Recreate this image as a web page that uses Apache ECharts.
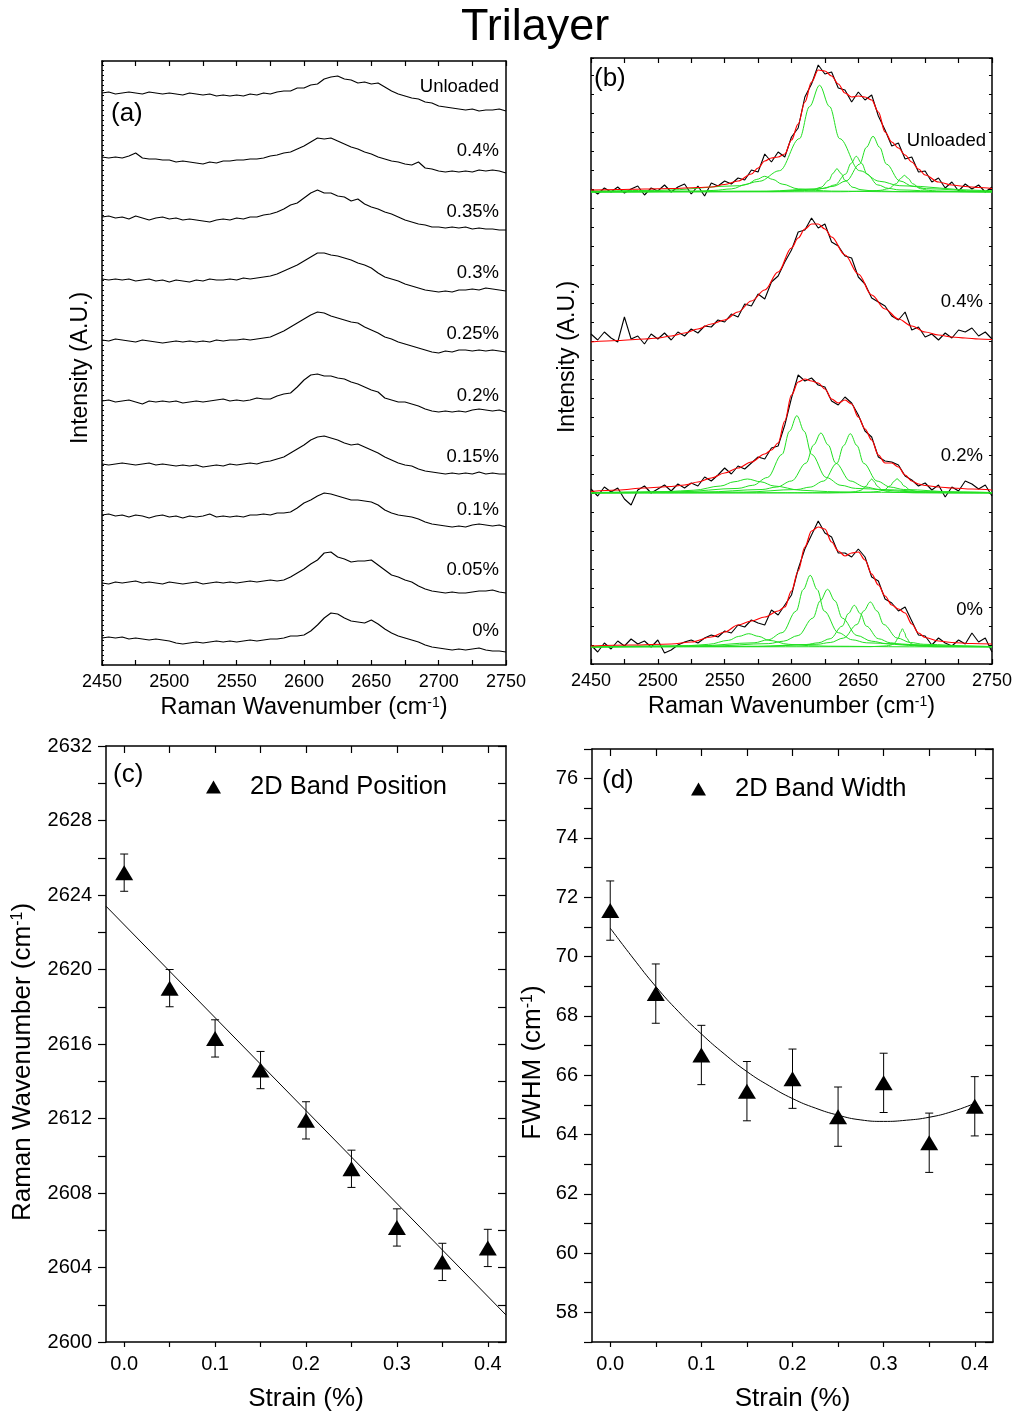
<!DOCTYPE html>
<html>
<head>
<meta charset="utf-8">
<title>Trilayer</title>
<script src="https://cdn.jsdelivr.net/npm/echarts@6/dist/echarts.min.js"></script>
<style>
html, body { margin: 0; padding: 0; background: #fff; }
#main { width: 1015px; height: 1418px; }
</style>
</head>
<body>
<div id="main"></div>
<script>
var FONT = 'Liberation Sans, Arial, sans-serif';

// ---- panel (a)/(b): Raman spectra, x = wavenumber (cm-1) ----
var wavenumbers = [2450,2455,2460,2465,2470,2475,2480,2485,2490,2495,
  2500,2505,2510,2515,2520,2525,2530,2535,2540,2545,
  2550,2555,2560,2565,2570,2575,2580,2585,2590,2595,
  2600,2605,2610,2615,2620,2625,2630,2635,2640,2645,
  2650,2655,2660,2665,2670,2675,2680,2685,2690,2695,
  2700,2705,2710,2715,2720,2725,2730,2735,2740,2745,
  2750];

var labelsA = ['Unloaded', '0.4%', '0.35%', '0.3%', '0.25%', '0.2%', '0.15%', '0.1%', '0.05%', '0%'];
var offsetsA = [572, 508, 448, 386, 325, 264, 201, 150, 82, 27];

var specA_unloaded = [0,1,-1,0,1,0,-1,1,0,-1, 0,-1,-2,0,-1,-2,-1,-3,-2,-3, -2,-3,-1,-2,0,-1,1,2,2,5,
  5,8,9,14,16,17,14,13,10,11, 9,10,6,2,-1,-3,-5,-6,-9,-10, -13,-14,-15,-16,-17,-16,-18,-17,-17,-16, -18];
var specA_04 = [0,-1,0,-1,1,4,-1,-2,-2,-3, -3,-5,-4,-5,-6,-7,-5,-6,-4,-4, -3,-3,-2,-2,-1,1,2,4,5,8,
  11,15,19,18,19,16,13,10,8,5, 3,0,-2,-4,-5,-7,-8,-5,-11,-12, -14,-15,-14,-15,-14,-15,-13,-14,-13,-14, -16];
var specA_035 = [0,1,-1,0,-2,1,-1,-3,-1,0, -2,-1,-3,-2,-3,-4,-5,-3,-2,-3, -1,-2,0,0,2,3,5,8,12,14,
  19,24,27,24,24,21,20,16,18,13, 10,8,5,3,0,-3,-5,-7,-8,-10, -10,-11,-10,-11,-10,-12,-11,-12,-12,-13, -13];
var specA_03 = [0,-1,0,-1,0,-2,-1,0,-2,-1, -3,-1,-2,-3,-1,-2,0,-1,-1,0, -1,1,0,1,2,3,5,8,11,14,
  18,22,26,26,24,23,21,19,16,14, 11,6,2,0,-2,-5,-7,-9,-11,-12, -13,-12,-13,-11,-11,-10,-11,-9,-10,-11, -12];
var specA_025 = [0,-1,1,0,-1,-2,0,-1,-2,-3, -2,-1,-2,-1,-2,-1,-2,0,-1,0, 0,1,0,1,2,3,6,9,13,17,
  21,25,28,27,24,22,20,18,17,13, 10,7,3,1,-2,-4,-6,-8,-10,-12, -13,-11,-12,-10,-10,-11,-10,-11,-10,-11, -12];
var specA_02 = [0,1,-1,0,1,-1,-3,0,-1,0, -1,0,-2,-1,0,-1,0,1,2,0, 1,0,1,3,2,2,5,7,8,14,
  21,26,27,25,25,23,22,19,17,14, 11,9,3,1,-1,-1,-3,-5,-8,-10, -11,-10,-11,-10,-11,-9,-8,-9,-10,-9, -11];
var specA_015 = [0,-1,0,1,0,-1,0,1,-1,0, -1,-2,-1,-2,-1,-3,-2,-1,-2,0, -1,0,1,0,2,3,5,7,11,15,
  19,24,27,28,26,24,21,19,20,17, 14,11,7,4,1,-1,-2,-5,-7,-8, -9,-10,-9,-10,-9,-10,-8,-10,-9,-10, -10];
var specA_01 = [0,1,-1,0,-2,0,-1,-3,-1,0, -2,-1,-3,-1,-2,-1,1,-2,-1,-2, -1,-2,0,0,1,0,2,2,3,7,
  12,15,19,22,21,19,17,15,15,14, 13,10,5,2,0,-1,-2,-4,-7,-9, -10,-11,-12,-11,-12,-10,-9,-10,-11,-10, -12];
var specA_005 = [0,-1,1,0,1,2,0,1,0,-1, 1,0,-1,0,1,-1,0,1,0,1, 0,1,2,1,2,3,2,3,6,10,
  14,19,23,30,31,26,24,21,22,22, 23,18,13,8,6,3,1,-3,-6,-8, -9,-10,-9,-10,-10,-9,-8,-8,-7,-9, -10];
var specA_0 = [0,1,0,1,-1,0,-1,-2,-1,-2, -3,-5,-6,-5,-4,-5,-4,-3,-4,-3, -4,-3,-2,-3,-2,-1,-1,0,2,2,
  3,7,13,20,25,24,20,17,16,15, 18,14,9,5,2,0,-2,-4,-7,-9, -10,-11,-12,-11,-12,-11,-10,-12,-13,-13, -14];
var spectraA = [specA_unloaded, specA_04, specA_035, specA_03, specA_025, specA_02, specA_015, specA_01, specA_005, specA_0];

var labelsB = ['Unloaded', '0.4%', '0.2%', '0%'];
var offsetsB = [472, 322, 171, 17];

var specB_unloaded = [3,-2,4,0,5,-1,3,6,-3,4, 1,7,0,5,8,-2,6,-4,9,6, 11,8,14,12,22,20,38,30,40,35,
  55,64,95,108,127,118,120,104,102,90, 100,92,97,76,62,46,49,33,35,20, 21,10,14,4,10,1,8,3,7,0, 5];
var specB_04 = [8,2,10,4,0,25,3,6,-2,8, 3,9,2,10,6,13,9,16,15,22, 20,28,25,38,36,48,43,60,66,80,
  92,110,112,124,114,118,100,96,86,84, 65,58,44,40,36,26,22,30,12,15, 5,8,2,9,4,12,10,14,6,10, 3];
var specB_02 = [4,-3,6,1,5,-6,-12,3,7,0, 4,8,2,9,5,10,7,16,12,18, 25,19,27,24,30,36,34,45,47,68,
  95,118,112,115,108,106,92,88,96,90, 78,62,56,36,32,31,28,17,13,7, 10,3,8,-4,6,2,12,9,4,8, -3];
var specB_0 = [2,-5,4,-2,6,1,8,3,6,0, 7,-6,-3,2,5,7,4,9,12,10, 16,14,22,20,27,24,22,37,32,42,
  52,78,98,112,126,114,110,94,94,90, 98,90,70,66,48,44,36,40,26,12, 11,2,9,4,1,7,3,14,5,9, -5];
var spectraB = [specB_unloaded, specB_04, specB_02, specB_0];

// cumulative fits (red)
var fitB_unloaded = [[2450,2],[2470,2.5],[2490,3],[2510,3.5],[2530,4.5],[2540,5],[2550,7.5],[2560,11],[2570,18],[2575,24],
  [2580,31],[2585,34],[2590,35],[2595,38],[2600,52],[2605,68],[2610,90],[2615,110],[2620,122],[2625,121],[2630,116],
  [2635,108],[2640,99],[2645,95],[2650,96],[2655,95],[2660,92],[2665,80],[2670,60],[2675,50],[2680,44],[2685,37],
  [2690,30],[2695,23],[2700,17],[2710,10],[2720,7],[2730,5.5],[2740,4.5],[2750,3.5]];
var fitB_04 = [[2450,0],[2470,1.5],[2490,3],[2500,4],[2510,6],[2520,9],[2530,13],[2540,18],[2550,22],[2560,30],
  [2570,41],[2580,52],[2590,70],[2600,94],[2605,104],[2610,113],[2615,118],[2620,118],[2625,113],[2630,105],
  [2640,87],[2650,68],[2660,47],[2670,33],[2680,23],[2690,16],[2700,10],[2710,7],[2720,5],[2730,4],[2740,3],[2750,2.5]];
var fitB_02 = [[2450,1.5],[2470,3],[2490,5],[2510,6.5],[2520,8],[2530,11],[2540,15],[2550,20],[2560,25],[2570,31],
  [2580,39],[2585,43],[2590,50],[2595,72],[2600,98],[2605,111],[2610,114],[2615,112],[2620,110],[2625,104],
  [2630,94],[2635,90],[2640,93],[2645,89],[2650,76],[2655,64],[2660,53],[2665,38],[2670,30],[2675,30],[2680,26],
  [2685,18],[2690,12],[2695,9],[2700,7.5],[2710,6],[2720,5],[2735,4],[2750,3]];
var fitB_0 = [[2450,1],[2480,2],[2510,3],[2525,5],[2540,10],[2550,15],[2560,22],[2570,26],[2580,30],[2590,36],
  [2595,40],[2600,56],[2605,76],[2610,100],[2615,116],[2620,120],[2625,118],[2630,105],[2635,96],[2640,91],
  [2645,94],[2650,95],[2655,87],[2660,73],[2665,62],[2670,51],[2675,42],[2680,38],[2685,34],[2690,23],[2695,14],
  [2700,9.5],[2710,6],[2720,4.5],[2735,3.5],[2750,3]];
var fitsB = [fitB_unloaded, fitB_04, fitB_02, fitB_0];

// fitted Lorentzian components (green)
var peaksB_unloaded = [
  [[2450,0.1],[2480,0.2],[2530,0.9],[2542,1.6],[2555,3.1],[2567,7.9],[2574,12.6],[2580,15.7],[2586,12.6],[2593,7.9],[2605,3.1],[2618,1.6],[2630,0.9],[2680,0.2],[2750,0.1]],
  [[2450,0.9],[2501,1.6],[2561,6.3],[2576,10.7],[2591,21.3],[2606,53.4],[2613.5,85.4],[2621,106.7],[2628.5,85.4],[2636,53.4],[2651,21.3],[2666,10.7],[2681,6.3],[2741,1.6],[2750,1.4]],
  [[2450,0.1],[2586,0.4],[2610,1.4],[2616,2.3],[2622,4.7],[2628,11.7],[2631,18.6],[2634,23.3],[2637,18.6],[2640,11.7],[2646,4.7],[2652,2.3],[2658,1.4],[2682,0.4],[2750,0.1]],
  [[2450,0.2],[2584.5,0.55],[2616.5,2.1],[2624.5,3.6],[2632.5,7.1],[2640.5,17.9],[2644.5,28.6],[2648.5,35.7],[2652.5,28.6],[2656.5,17.9],[2664.5,7.1],[2672.5,3.6],[2680.5,2.1],[2712.5,0.55],[2750,0.2]],
  [[2450,0.3],[2581,0.86],[2621,3.3],[2631,5.6],[2641,11.1],[2651,27.9],[2656,44.6],[2661,55.7],[2666,44.6],[2671,27.9],[2681,11.1],[2691,5.6],[2701,3.3],[2741,0.86],[2750,0.7]],
  [[2450,0.05],[2636.5,0.26],[2660.5,1],[2666.5,1.7],[2672.5,3.3],[2678.5,8.4],[2681.5,13.4],[2684.5,16.7],[2687.5,13.4],[2690.5,8.4],[2696.5,3.3],[2702.5,1.7],[2708.5,1],[2732.5,0.26],[2750,0.1]]
];
var peaksB_02 = [
  [[2450,0.4],[2487,0.8],[2507,1.4],[2527,2.8],[2547,7],[2557,11.2],[2567,14],[2577,11.2],[2587,7],[2607,2.8],[2627,1.4],[2647,0.8],[2727,0.2],[2750,0.17]],
  [[2450,0.4],[2516,1.2],[2560,4.6],[2571,7.7],[2582,15.5],[2593,38.7],[2598.5,61.8],[2604,77.3],[2609.5,61.8],[2615,38.7],[2626,15.5],[2637,7.7],[2648,4.6],[2692,1.2],[2750,0.44]],
  [[2450,0.24],[2534,0.9],[2578,3.5],[2589,6],[2600,12],[2611,30],[2616.5,48],[2622,60],[2627.5,48],[2633,30],[2644,12],[2655,6],[2666,3.5],[2710,0.9],[2750,0.44]],
  [[2450,0.16],[2564,0.9],[2604,3.5],[2614,5.9],[2624,11.9],[2634,29.7],[2639,47.4],[2644,59.3],[2649,47.4],[2654,29.7],[2664,11.9],[2674,5.9],[2684,3.5],[2724,0.9],[2750,0.5]],
  [[2450,0],[2628,0.2],[2644,0.8],[2648,1.4],[2652,2.8],[2656,7],[2658,11.2],[2660,14],[2662,11.2],[2664,7],[2668,2.8],[2672,1.4],[2676,0.8],[2692,0.2],[2750,0]],
  [[2450,0],[2639,0.2],[2659,0.8],[2664,1.4],[2669,2.9],[2674,7.2],[2676.5,11.4],[2679,14.3],[2681.5,11.4],[2684,7.2],[2689,2.9],[2694,1.4],[2699,0.8],[2719,0.2],[2750,0]]
];
var peaksB_0 = [
  [[2450,0.2],[2508,0.8],[2523,1.3],[2538,2.7],[2553,6.7],[2560.5,10.6],[2568,13.3],[2575.5,10.6],[2583,6.7],[2598,2.7],[2613,1.3],[2628,0.8],[2688,0.2],[2750,0.1]],
  [[2450,0.3],[2530,1.1],[2572,4.2],[2582.5,7.2],[2593,14.3],[2603.5,35.9],[2608.75,57.4],[2614,71.7],[2619.25,57.4],[2624.5,35.9],[2635,14.3],[2645.5,7.2],[2656,4.2],[2698,1.1],[2750,0.4]],
  [[2450,0.2],[2539,0.9],[2583,3.4],[2594,5.8],[2605,11.5],[2616,28.9],[2621.5,46.2],[2627,57.7],[2632.5,46.2],[2638,28.9],[2649,11.5],[2660,5.8],[2671,3.4],[2715,0.9],[2750,0.46]],
  [[2450,0.1],[2575,0.64],[2611,2.5],[2620,4.2],[2629,8.3],[2638,20.9],[2642.5,33.4],[2647,41.7],[2651.5,33.4],[2656,20.9],[2665,8.3],[2674,4.2],[2683,2.5],[2719,0.64],[2750,0.3]],
  [[2450,0.1],[2579,0.7],[2619,2.7],[2629,4.5],[2639,9],[2649,22.5],[2654,36],[2659,45],[2664,36],[2669,22.5],[2679,9],[2689,4.5],[2699,2.7],[2739,0.7],[2750,0.5]],
  [[2450,0],[2659,0.3],[2671,1.1],[2674,1.8],[2677,3.7],[2680,9.2],[2681.5,14.6],[2683,18.3],[2684.5,14.6],[2686,9.2],[2689,3.7],[2692,1.8],[2695,1.1],[2707,0.3],[2750,0]]
];
var peaksB = [peaksB_unloaded, [], peaksB_02, peaksB_0];

// ---- panel (c)/(d): strain dependence ----
var strain = [0, 0.05, 0.1, 0.15, 0.2, 0.25, 0.3, 0.35, 0.4];
var bandPos = [2625.2, 2619.0, 2616.3, 2614.6, 2611.9, 2609.3, 2606.15, 2604.3, 2605.05];
var bandPosErr = [1.0, 1.0, 1.0, 1.0, 1.0, 1.0, 1.0, 1.0, 1.0];
var bandWidth = [71.55, 68.75, 66.68, 65.46, 65.88, 64.6, 65.74, 63.72, 64.95];
var bandWidthErr = [1.0, 1.0, 1.0, 1.0, 1.0, 1.0, 1.0, 1.0, 1.0];

var fitC_x = [-0.02, 0.42];
var fitC_y = [2623.4, 2601.45];
var fitD_x = [0, 0.025, 0.05, 0.075, 0.1, 0.125, 0.15, 0.175, 0.2, 0.225, 0.25, 0.275, 0.3, 0.325, 0.35, 0.375, 0.4];
var fitD_y = [70.96, 69.95, 68.99, 68.14, 67.39, 66.72, 66.12, 65.63, 65.21, 64.89, 64.65, 64.49, 64.44, 64.48, 64.58, 64.77, 65.05];

var strainTicks = [0, 0.05, 0.1, 0.15, 0.2, 0.25, 0.3, 0.35, 0.4];
var strainLabels = [0, 0.1, 0.2, 0.3, 0.4];

// ---------------------------------------------------------------
var chart = echarts.init(document.getElementById('main'));

function nameStyle(size, pad) {
    return {
        color: '#000', fontFamily: FONT, fontSize: size,
        padding: pad || 0,
        rich: {
            n: { fontSize: size, fontFamily: FONT, color: '#000' },
            s: { fontSize: Math.round(size * 0.6), fontFamily: FONT, color: '#000', verticalAlign: 'top' }
        }
    };
}

var black = { color: '#000', width: 1.5 };

function specX(grid, top) {
    return {
        type: 'value', gridIndex: grid, position: top ? 'top' : 'bottom',
        min: 2450, max: 2750, interval: 25,
        axisLine: { show: true, onZero: false, lineStyle: black },
        axisTick: { show: true, inside: true, length: 5, lineStyle: { color: '#000', width: 1.2 } },
        axisLabel: {
            show: !top, interval: 0, color: '#000', fontSize: 18, fontFamily: FONT, margin: 8,
            showMinLabel: true, showMaxLabel: true, hideOverlap: false,
            formatter: function (v) { return v % 50 === 0 ? String(v) : ''; }
        },
        splitLine: { show: false },
        name: top ? '' : '{n|Raman Wavenumber (cm}{s|-1}{n|)}',
        nameLocation: 'middle', nameGap: 31, nameTextStyle: nameStyle(23.5)
    };
}

function specY(grid, right, max, step, len) {
    return {
        type: 'value', gridIndex: grid, position: right ? 'right' : 'left',
        min: 0, max: max, interval: step,
        axisLine: { show: true, onZero: false, lineStyle: black },
        axisTick: { show: len > 0, inside: true, length: len, lineStyle: { color: '#000', width: 1 } },
        axisLabel: { show: false },
        splitLine: { show: false },
        name: right ? '' : 'Intensity (A.U.)',
        nameLocation: 'middle', nameGap: grid === 0 ? 10 : 12,
        nameTextStyle: { color: '#000', fontFamily: FONT, fontSize: 23,
            padding: grid === 0 ? [0, 10, 0, 0] : [0, 0, 0, 8] }
    };
}

function strainX(grid, top) {
    return {
        type: 'value', gridIndex: grid, position: top ? 'top' : 'bottom',
        min: -0.02, max: 0.42,
        axisLine: { show: true, onZero: false, lineStyle: black },
        axisTick: { show: true, inside: top, length: top ? 7 : 5, customValues: strainTicks, lineStyle: { color: '#000', width: 1.2 } },
        axisLabel: {
            show: !top, customValues: strainLabels, color: '#000', fontSize: 20, fontFamily: FONT, margin: 12,
            formatter: function (v) { return v.toFixed(1); }
        },
        splitLine: { show: false },
        name: top ? '' : 'Strain (%)',
        nameLocation: 'middle', nameGap: 44,
        nameTextStyle: { color: '#000', fontFamily: FONT, fontSize: 26 }
    };
}

function strainY(grid, right, min, max, step, every, name, gap, pad) {
    return {
        type: 'value', gridIndex: grid, position: right ? 'right' : 'left',
        min: min, max: max, interval: step,
        axisLine: { show: true, onZero: false, lineStyle: black },
        axisTick: { show: true, inside: right, length: 8, lineStyle: { color: '#000', width: 1.2 } },
        axisLabel: {
            show: !right, interval: 0, color: '#000', fontSize: 20, fontFamily: FONT, margin: 14,
            showMinLabel: true, showMaxLabel: true,
            formatter: function (v) { return Math.round(v) % every === 0 ? String(Math.round(v)) : ''; }
        },
        splitLine: { show: false },
        name: right ? '' : name,
        nameLocation: 'middle', nameGap: gap, nameTextStyle: nameStyle(26, pad)
    };
}

function renderErrorBar(params, api) {
    var x = api.value(0), y = api.value(1), e = api.value(2);
    var hi = api.coord([x, y + e]);
    var lo = api.coord([x, y - e]);
    var cap = 4;
    return {
        type: 'group',
        children: [
            { type: 'line', shape: { x1: hi[0], y1: hi[1], x2: lo[0], y2: lo[1] }, style: { stroke: '#000', lineWidth: 1 } },
            { type: 'line', shape: { x1: hi[0] - cap, y1: hi[1], x2: hi[0] + cap, y2: hi[1] }, style: { stroke: '#000', lineWidth: 1 } },
            { type: 'line', shape: { x1: lo[0] - cap, y1: lo[1], x2: lo[0] + cap, y2: lo[1] }, style: { stroke: '#000', lineWidth: 1 } }
        ]
    };
}

var series = [];

// (a) stacked spectra
spectraA.forEach(function (spec, i) {
    series.push({
        type: 'line', xAxisIndex: 0, yAxisIndex: 0, silent: true,
        symbol: 'none', lineStyle: { color: '#000', width: 1.1 },
        data: wavenumbers.map(function (w, j) { return [w, offsetsA[i] + spec[j]]; })
    });
});

// (b) spectra, components and fit
spectraB.forEach(function (spec, i) {
    var off = offsetsB[i];
    series.push({
        type: 'line', xAxisIndex: 1, yAxisIndex: 1, silent: true, z: 2,
        symbol: 'none', lineStyle: { color: '#000', width: 1.1 },
        data: wavenumbers.map(function (w, j) { return [w, off + spec[j]]; })
    });
    peaksB[i].forEach(function (pk) {
        series.push({
            type: 'line', xAxisIndex: 1, yAxisIndex: 1, silent: true, z: 3,
            symbol: 'none', smooth: 0.35, smoothMonotone: 'x',
            lineStyle: { color: '#22e022', width: 1 },
            data: pk.map(function (p) { return [p[0], off + p[1]]; })
        });
    });
    series.push({
        type: 'line', xAxisIndex: 1, yAxisIndex: 1, silent: true, z: 4,
        symbol: 'none', smooth: 0.35, smoothMonotone: 'x',
        lineStyle: { color: '#ff0000', width: 1.2 },
        data: fitsB[i].map(function (p) { return [p[0], off + p[1]]; })
    });
});

// (c)
series.push({
    type: 'line', xAxisIndex: 2, yAxisIndex: 2, silent: true, symbol: 'none', clip: true,
    lineStyle: { color: '#000', width: 1 },
    data: fitC_x.map(function (x, i) { return [x, fitC_y[i]]; })
});
series.push({
    type: 'custom', xAxisIndex: 2, yAxisIndex: 2, silent: true, z: 3,
    renderItem: renderErrorBar, encode: { x: 0, y: 1 },
    data: strain.map(function (s, i) { return [s, bandPos[i], bandPosErr[i]]; })
});
series.push({
    name: '2D Band Position', type: 'scatter', xAxisIndex: 2, yAxisIndex: 2, z: 4,
    symbol: 'triangle', symbolSize: [18, 15], itemStyle: { color: '#000', opacity: 1 },
    data: strain.map(function (s, i) { return [s, bandPos[i]]; })
});

// (d)
series.push({
    type: 'line', xAxisIndex: 3, yAxisIndex: 3, silent: true, symbol: 'none', smooth: true,
    lineStyle: { color: '#000', width: 1 },
    data: fitD_x.map(function (x, i) { return [x, fitD_y[i]]; })
});
series.push({
    type: 'custom', xAxisIndex: 3, yAxisIndex: 3, silent: true, z: 3,
    renderItem: renderErrorBar, encode: { x: 0, y: 1 },
    data: strain.map(function (s, i) { return [s, bandWidth[i], bandWidthErr[i]]; })
});
series.push({
    name: '2D Band Width', type: 'scatter', xAxisIndex: 3, yAxisIndex: 3, z: 4,
    symbol: 'triangle', symbolSize: [18, 15], itemStyle: { color: '#000', opacity: 1 },
    data: strain.map(function (s, i) { return [s, bandWidth[i]]; })
});

// text labels on the stacked spectra
var graphics = [];
var labelYA = [87, 151, 212, 273, 334, 396, 457, 510, 570, 631];
labelsA.forEach(function (t, i) {
    graphics.push({ type: 'text', x: 499, y: labelYA[i], silent: true,
        style: { text: t, align: 'right', verticalAlign: 'middle', fontSize: 18.5, fontFamily: FONT, fill: '#000' } });
});
var labelYB = [141, 302, 456, 610];
var labelXB = [986, 983, 983, 983];
labelsB.forEach(function (t, i) {
    graphics.push({ type: 'text', x: labelXB[i], y: labelYB[i], silent: true,
        style: { text: t, align: 'right', verticalAlign: 'middle', fontSize: 18.5, fontFamily: FONT, fill: '#000' } });
});
[['(a)', 111, 114], ['(b)', 594, 79], ['(c)', 113, 775], ['(d)', 602, 781]].forEach(function (p) {
    graphics.push({ type: 'text', x: p[1], y: p[2], silent: true,
        style: { text: p[0], verticalAlign: 'middle', fontSize: 26, fontFamily: FONT, fill: '#000' } });
});

var option = {
    animation: false,
    backgroundColor: '#fff',
    title: {
        text: 'Trilayer', left: 456, top: 0,
        textStyle: { color: '#000', fontSize: 45, fontWeight: 'normal', fontFamily: FONT }
    },
    legend: [
        { data: ['2D Band Position'], left: 201, top: 769, icon: 'triangle', itemWidth: 15, itemHeight: 13,
          selectedMode: false, textStyle: { color: '#000', fontSize: 25.5, fontFamily: FONT, padding: [0, 0, 0, 24] } },
        { data: ['2D Band Width'], left: 686, top: 771, icon: 'triangle', itemWidth: 15, itemHeight: 13,
          selectedMode: false, textStyle: { color: '#000', fontSize: 25.5, fontFamily: FONT, padding: [0, 0, 0, 24] } }
    ],
    grid: [
        { left: 102, top: 61, width: 404, height: 604 },
        { left: 591, top: 58, width: 401, height: 606 },
        { left: 106, top: 746, width: 400, height: 596 },
        { left: 592, top: 749, width: 401, height: 593 }
    ],
    xAxis: [
        specX(0, false), specX(1, false), strainX(2, false), strainX(3, false),
        specX(0, true), specX(1, true), strainX(2, true), strainX(3, true)
    ],
    yAxis: [
        specY(0, false, 604, 5, 2), specY(1, false, 606, 19, 3),
        strainY(2, false, 2600, 2632, 2, 4, '{n|Raman Wavenumber (cm}{s|-1}{n|)}', 70, [0, 36, 0, 0]),
        strainY(3, false, 57, 77, 1, 2, '{n|FWHM (cm}{s|-1}{n|)}', 46, [0, 34, 0, 0]),
        specY(0, true, 604, 5, 0), specY(1, true, 606, 19, 3),
        strainY(2, true, 2600, 2632, 2, 4, '', 0),
        strainY(3, true, 57, 77, 1, 2, '', 0)
    ],
    graphic: graphics,
    series: series
};

chart.setOption(option);
</script>
</body>
</html>
